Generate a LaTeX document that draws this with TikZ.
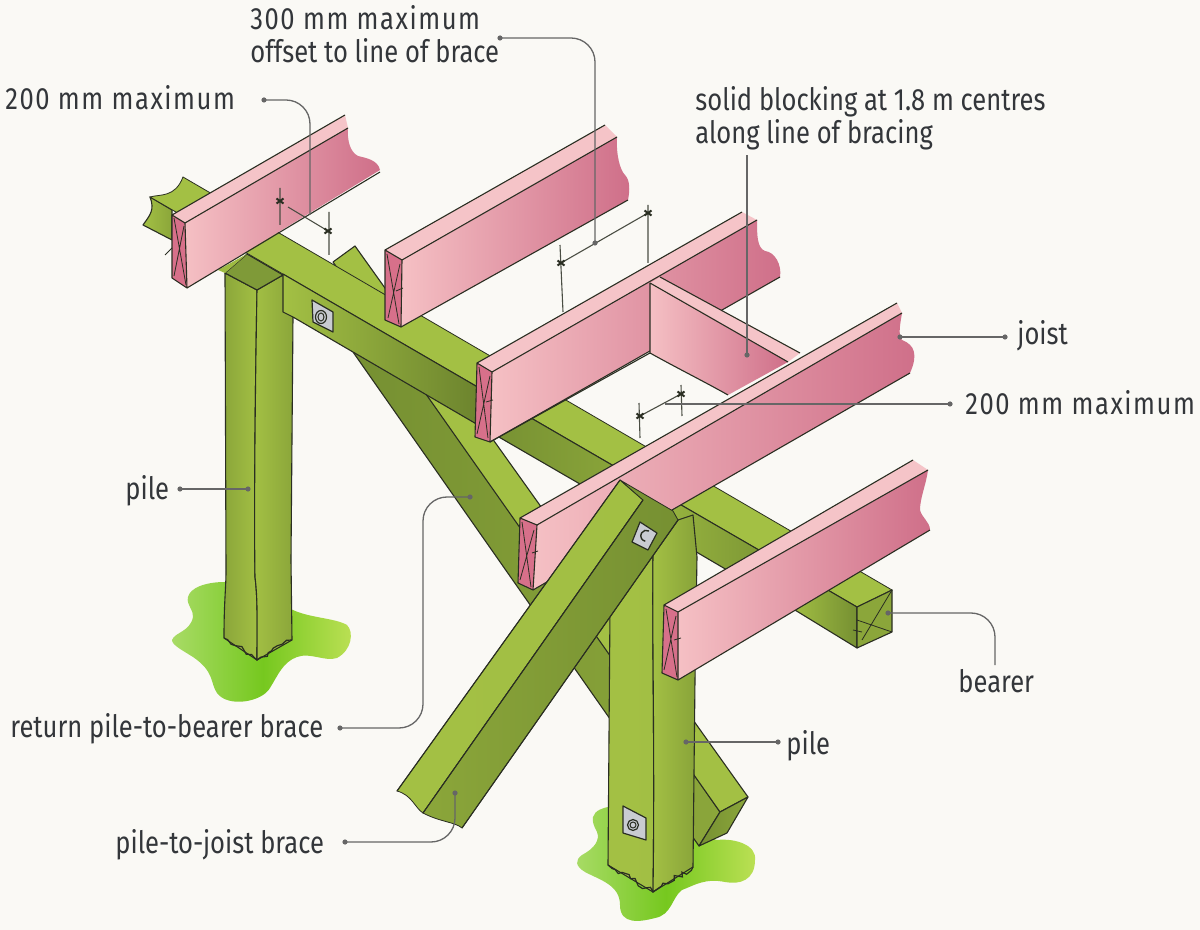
\documentclass[tikz,border=0pt]{standalone}
\usepackage{fontspec}
\setmainfont{Fira Sans}[FakeStretch=0.83]
\usetikzlibrary{decorations.pathmorphing}
\definecolor{paper}{HTML}{FAF9F5}
\definecolor{gtop}{HTML}{A3C044}
\definecolor{gmid}{HTML}{8BA63A}
\definecolor{gdark}{HTML}{769032}
\definecolor{gcap}{HTML}{7F9A38}
\definecolor{ptop}{HTML}{F5C4C8}
\definecolor{pleft}{HTML}{F5C0C4}
\definecolor{pright}{HTML}{CF6F89}
\definecolor{pend}{HTML}{D7708A}
\definecolor{ink}{HTML}{2A2E22}
\definecolor{lead}{HTML}{666666}
\definecolor{txt}{HTML}{33363A}
\definecolor{plate}{HTML}{C9CCD2}
\definecolor{grassL}{HTML}{A8DB66}
\definecolor{grassM}{HTML}{76C81F}
\definecolor{grassR}{HTML}{BCE055}
\tikzset{
  outl/.style={draw=ink,line width=0.55pt,line join=round},
  thinl/.style={draw=ink,line width=0.4pt},
  pinkside/.style={left color=pleft,right color=pright},
  pinktop/.style={fill=ptop},
  pinkend/.style={fill=pend},
  grassy/.style={left color=grassL,right color=grassR,middle color=grassM},
  lbl/.style={font=\fontsize{15.4}{16.6}\selectfont,text=txt,anchor=base west,inner sep=0pt,align=left},
  ldot/.style={circle,fill=lead,inner sep=0pt,minimum size=2.6pt},
  leader/.style={draw=lead,line width=0.65pt,rounded corners=12pt},
  dimln/.style={draw=ink!85,line width=0.55pt},
  plateS/.style={fill=plate,draw=ink,line width=0.6pt,line join=round},
  jag/.style={draw=ink,line width=0.6pt,decorate,decoration={random steps,segment length=2.2pt,amplitude=1.4pt}},
}
\newcommand{\dimstar}[1]{\draw[draw=ink,line width=1pt] ([shift={(-3.5,-2.5)}]#1) -- ([shift={(3.5,2.5)}]#1) ([shift={(-3.5,2.5)}]#1) -- ([shift={(3.5,-2.5)}]#1);}
\newcommand{\wide}{\addfontfeatures{LetterSpace=5}}
\begin{document}
\begin{tikzpicture}[x=0.5pt,y=-0.5pt]
\pgfmathsetseed{7}
\useasboundingbox (0,0) rectangle (1200,930);
\fill[paper] (0,0) rectangle (1200,930);

% grass
\path[grassy]
 (188,597) .. controls (190,588) and (205,582) .. (225,582) -- (293,610)
 .. controls (310,618) and (335,618) .. (347,625) .. controls (354,632) and (352,650) .. (337,658)
 .. controls (325,662) and (310,652) .. (297,657) .. controls (283,662) and (278,675) .. (270,688)
 .. controls (262,702) and (228,708) .. (217,693) .. controls (210,683) and (215,672) .. (193,657)
 .. controls (182,650) and (172,645) .. (172,640) .. controls (175,632) and (190,632) .. (193,617)
 .. controls (194,610) and (186,605) .. (188,597) -- cycle;
\path[grassy]
 (593,817) .. controls (595,810) and (603,808) .. (612,806) -- (717,840)
 .. controls (735,838) and (757,845) .. (755,860) .. controls (755,880) and (740,885) .. (725,882)
 .. controls (705,878) and (695,885) .. (682,890) .. controls (672,897) and (672,915) .. (655,918)
 .. controls (640,922) and (620,925) .. (620,905) .. controls (620,885) and (600,880) .. (585,872)
 .. controls (575,866) and (575,860) .. (582,855) .. controls (595,848) and (600,840) .. (597,832)
 .. controls (594,826) and (592,822) .. (593,817) -- cycle;

% return brace
\path[left color=gdark,right color=gmid,outl] (353,352) -- (699,846) -- (720,812) -- (400,350) -- cycle;
\path[fill=gtop,outl] (333,262) -- (355,246) -- (748,797) -- (720,812) -- cycle;
\path[left color=gdark,right color=gmid,outl] (720,812) -- (748,797) -- (727,833) -- (699,846) -- cycle;

% pile 1
\path[left color=gmid,right color=gtop,outl]
 (225,273) -- (257,290) .. controls (255,400) and (254,520) .. (255,577) .. controls (258,600) and (257,630) .. (257,660)
 -- (224,638) .. controls (224,600) and (226,590) .. (226,570) -- cycle;
\path[left color=gtop,right color=gmid,outl]
 (257,290) -- (283,275) -- (293,317) -- (291,560) -- (292,640) -- (257,660)
 .. controls (257,630) and (258,600) .. (255,577) .. controls (254,520) and (255,400) .. (257,290) -- cycle;
\draw[jag] (224,638) -- (257,660) -- (292,640);
\path[fill=gcap,outl] (247,254) -- (283,275) -- (257,290) -- (225,273) -- cycle;
\path[fill=gtop!90!gdark] (218,270) -- (247,254) -- (225,273) -- cycle;

% bearer
\path[left color=gtop,right color=gmid,outl] (150,197) -- (172,210) -- (172,240) -- (143,225) .. controls (150,215) and (155,210) .. (150,197) -- cycle;
\path[fill=gtop,thinl] (183,177) -- (892,590) -- (857,607) -- (150,197)
  .. controls (160,194) and (175,198) .. (183,177) -- cycle;
\path[left color=gtop,right color=gdark!90!black,outl] (283,274) -- (485,391.3) -- (485,429) -- (293,317) -- (283,312) -- cycle;
\path[left color=gdark,right color=gmid,outl] (485,391.3) -- (630,475.4) -- (630,513) -- (485,429) -- cycle;
\path[left color=gtop!90!gmid,right color=gdark,outl] (630,475.4) -- (790,568) -- (790,607) -- (630,513) -- cycle;
\path[left color=gtop,right color=gdark,outl] (790,568) -- (857,607) -- (857,648) -- (790,607) -- cycle;
\path[fill=gmid,outl] (857,607) -- (892,590) -- (892,632) -- (857,648) -- cycle;
\draw[thinl] (857,620) -- (892,632) (892,590) -- (862,640) (853,630) -- (862,632);
\path[plateS] (312,300) -- (333,312) -- (333,332) -- (313,322) -- cycle;
\draw[draw=ink,line width=0.6pt] (321,317) ellipse (5.5 and 6.5);
\draw[draw=ink,line width=0.5pt] (321,317) ellipse (3 and 4);

% joist 1
\path[pinkside] (185,223) -- (348,128) .. controls (347,140) and (350,152) .. (358,156) .. controls (366,158) and (378,160) .. (380,170) -- (187,288) -- cycle;
\path[pinktop] (172,215) -- (345,115) -- (348,128) -- (185,223) -- cycle;
\draw[outl] (172,215) -- (345,115) (185,223) -- (348,128) (187,288) -- (380,172);
\path[pinkend,outl] (172,215) -- (185,223) -- (187,288) -- (172,278) -- cycle;
\draw[thinl] (174,218) -- (186,285) (184,226) -- (174,276) (165,255) -- (172,248);
% joist 2
\path[pinkside] (402,260) -- (617,137) .. controls (616,155) and (620,170) .. (625,175) .. controls (630,180) and (630,190) .. (628,200) -- (401,327) -- cycle;
\path[pinktop] (385,250) -- (605,125) -- (617,137) -- (402,260) -- cycle;
\draw[outl] (385,250) -- (605,125) (402,260) -- (617,137) (401,327) -- (628,200);
\path[pinkend,outl] (385,250) -- (402,260) -- (401,327) -- (385,320) -- cycle;
\draw[thinl] (387,254) -- (399,324) (400,264) -- (388,318) (396,291) -- (403,288);
% joist 3
\path[pinkside] (492,372) -- (757,220) .. controls (757,235) and (757,248) .. (765,251) .. controls (775,252) and (782,265) .. (780,277) -- (490,442) -- cycle;
\path[pinktop] (477,363) -- (742,212) -- (757,220) -- (492,372) -- cycle;
\draw[outl] (477,363) -- (742,212) (492,372) -- (757,220) (490,442) -- (780,277);
\path[pinkend,outl] (477,363) -- (492,372) -- (490,442) -- (475,437) -- cycle;
\draw[thinl] (479,367) -- (488,438) (490,376) -- (477,434) (486,402) -- (493,400);
% blocking
\path[pinkside] (650,283) -- (788,362) -- (728,395) .. controls (705,382) and (675,367) .. (650,353) -- cycle;
\path[pinktop] (650,283) -- (660,277) -- (800,353) -- (788,362) -- cycle;
\draw[outl] (650,283) -- (788,362) (660,277) -- (800,353) (650,283) -- (650,353) -- (490,442)
  (650,353) .. controls (675,367) and (705,382) .. (728,395);
% joist 4
\path[pinkside] (537,525) -- (902,313) .. controls (900,325) and (898,335) .. (902,340) .. controls (915,345) and (918,355) .. (910,373) -- (533,590) -- cycle;
\path[pinktop] (520,518) -- (897,303) -- (902,313) -- (537,525) -- cycle;
\draw[outl] (520,518) -- (897,303) (537,525) -- (902,313) (533,590) -- (910,373);
\path[pinkend,outl] (520,518) -- (537,525) -- (533,590) -- (518,583) -- cycle;
\draw[thinl] (522,522) -- (531,587) (534,530) -- (520,580) (532,553) -- (538,551);

% pile 2
\path[left color=gtop,right color=gtop!97!gmid,outl] (610,608) -- (653,555) .. controls (652,650) and (655,750) .. (653,892) -- (608,865) -- cycle;
\path[left color=gtop,right color=gmid!85!gdark,outl] (653,555) -- (678,520) -- (693,515) -- (697,557) -- (695,680) -- (693,867) -- (653,892)
  .. controls (655,750) and (652,650) .. (653,555) -- cycle;
\draw[jag] (608,865) -- (653,892) -- (693,867);
\path[plateS] (623,806) -- (646,818) -- (646,840) -- (623,833) -- cycle;
\draw[draw=ink,line width=0.6pt] (633,825) circle (5.5);
\draw[draw=ink,line width=0.5pt] (633,825) circle (3);

% pile-to-joist brace
\path[left color=gtop,right color=gtop!94!gmid,thinl] (620,480) -- (643,500) -- (423,813)
  .. controls (415,808) and (412,795) .. (397,791) -- cycle;
\path[left color=gmid,right color=gdark,thinl] (643,500) -- (620,480) -- (673,511) -- (678,520) -- (462,828)
 .. controls (455,822) and (440,822) .. (423,813) -- cycle;
\draw[outl] (620,480) -- (397,791) (643,500) -- (423,813) (678,520) -- (462,828);
\path[plateS] (640,522) -- (657,533) -- (648,550) -- (632,542) -- cycle;
\draw[draw=ink,line width=0.7pt] (649,531) arc (-60:-260:5.5);

% joist 5
\path[pinkside] (678,612) -- (928,470) .. controls (926,485) and (920,498) .. (920,510) .. controls (922,518) and (930,522) .. (930,530) -- (678,680) -- cycle;
\path[pinktop] (664,605) -- (913,460) -- (928,470) -- (678,612) -- cycle;
\draw[outl] (664,605) -- (913,460) (678,612) -- (928,470) (678,680) -- (930,530);
\path[pinkend,outl] (664,605) -- (678,612) -- (678,680) -- (662,673) -- cycle;
\draw[thinl] (666,609) -- (677,677) (676,616) -- (664,670) (674,640) -- (681,638);

% dimension marks
\coordinate (s1) at (280,201); \coordinate (s2) at (328,231);
\coordinate (s3) at (561,263); \coordinate (s4) at (648,213);
\coordinate (s5) at (640,416); \coordinate (s6) at (681,394);
\draw[dimln] (280,188) -- (280,225) (329,212) -- (329,255) (288,207) -- (s2);
\draw[dimln] (560,245) -- (563,312) (648,205) -- (648,263) (s3) -- (s4);
\draw[dimln] (639,403) -- (640,438) (681,385) -- (682,416) (s5) -- (s6);
\dimstar{s1}\dimstar{s2}\dimstar{s3}\dimstar{s4}\dimstar{s5}\dimstar{s6}

% labels
\node[lbl] (t300) at (250,63) {{\wide 300 mm maximum}\\offset to line of brace};
\node[lbl] (t200a) at (5,110) {\wide 200 mm maximum};
\node[lbl] (tsolid) at (695,144) {solid blocking at 1.8 m centres\\along line of bracing};
\node[lbl] (tjoist) at (1017,345) {joist};
\node[lbl] (t200b) at (965,415) {\wide 200 mm maximum};
\node[lbl] (tpile1) at (125,500) {pile};
\node[lbl] (tret) at (10,737) {return pile-to-bearer brace};
\node[lbl] (tptj) at (115,853) {pile-to-joist brace};
\node[lbl] (tpile2) at (786,754) {pile};
\node[lbl] (tbear) at (958,692) {bearer};

% leaders
\node[ldot] (a1) at (500,38) {}; \node[ldot] (a2) at (595,243) {};
\node[ldot] (b1) at (264,100) {}; \coordinate (b2) at (310,215);
\node[ldot] (c1) at (747,355) {}; \coordinate (c2) at (747,155);
\node[ldot] (d1) at (1005,337) {}; \node[ldot] (d2) at (900,337) {};
\node[ldot] (e1) at (950,404) {}; \coordinate (e2) at (665,404);
\node[ldot] (f1) at (180,489) {}; \node[ldot] (f2) at (248,489) {};
\node[ldot] (g1) at (340,728) {}; \coordinate (g3) at (423,497); \node[ldot] (g2) at (470,497) {};
\node[ldot] (h1) at (345,842) {}; \node[ldot] (h2) at (455,793) {};
\node[ldot] (i1) at (778,742) {}; \node[ldot] (i2) at (686,742) {};
\node[ldot] (j1) at (888,613) {}; \coordinate (j2) at (995,665);
\draw[leader] (a1.center) -| (a2.center);
\draw[leader] (b1.center) -| (b2);
\draw[leader] (c1.center) -- (c2);
\draw[leader] (d1.center) -- (d2.center);
\draw[leader] (e1.center) -- (e2);
\draw[leader] (f1.center) -- (f2.center);
\draw[leader] (g1.center) -| (g3) -- (g2.center);
\draw[leader] (h1.center) -| (h2.center);
\draw[leader] (i1.center) -- (i2.center);
\draw[leader] (j1.center) -| (j2);
\end{tikzpicture}
\end{document}
